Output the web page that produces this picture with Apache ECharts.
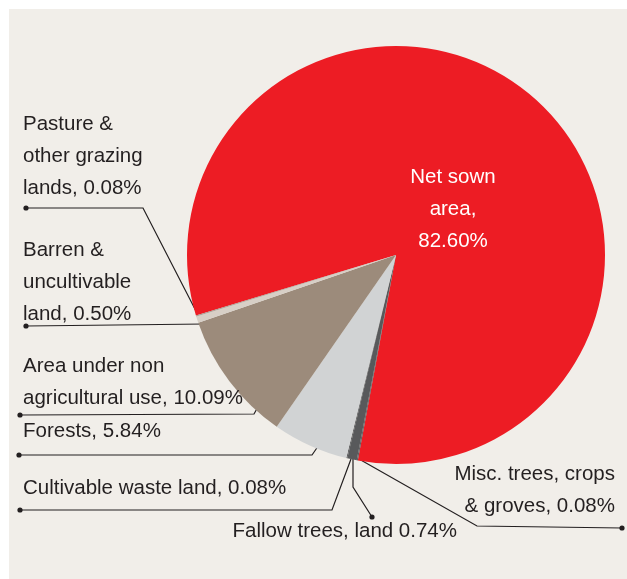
<!DOCTYPE html>
<html><head><meta charset="utf-8">
<script src="https://cdn.jsdelivr.net/npm/echarts@6/dist/echarts.min.js"></script>
<style>html,body{margin:0;padding:0;background:#fff}#c{width:627px;height:579px}</style>
</head><body><div id="c"></div>
<script>
const categories = ['Net sown area', 'Misc. trees, crops & groves', 'Fallow trees, land', 'Cultivable waste land', 'Forests', 'Area under non agricultural use', 'Barren & uncultivable land', 'Pasture & other grazing lands'];
const values = [82.60, 0.08, 0.74, 0.08, 5.84, 10.09, 0.50, 0.08];
const labelTexts = ['Net sown\narea,\n82.60%', 'Misc. trees, crops\n& groves, 0.08%', 'Fallow trees, land 0.74%', 'Cultivable waste land, 0.08%', 'Forests, 5.84%', 'Area under non\nagricultural use, 10.09%', 'Barren &\nuncultivable\nland, 0.50%', 'Pasture &\nother grazing\nlands, 0.08%'];
const colors = ['#ed1c24','#58595b','#58595b','#58595b','#d1d3d4','#9c8b7b','#d7cfc6','#a99d92'];

// annotation layout (label placement and leader-line routing)
const labelLayouts = [
  {x:453, y:161, align:'center', line:null},
  {x:615, y:458, align:'right', line:[[359,459],[477,526],[622,528]]},
  {x:457, y:515, align:'right', line:[[353,459],[353,487],[372,517]]},
  {x:23, y:472, align:'left', line:[[351,459],[332,510],[20,510]]},
  {x:23, y:415, align:'left', line:[[330,429],[312,455],[19,455]]},
  {x:23, y:350, align:'left', line:[[268,389],[254,414],[20,415]]},
  {x:23, y:234, align:'left', line:[[205,324],[205,324],[26,326]]},
  {x:23, y:108, align:'left', line:[[197,313],[143,208],[26,208]]}
];
const FONT = 'Liberation Sans';
const INK = '#231f20';

const chart = echarts.init(document.getElementById('c'), null, {renderer:'canvas'});
const dots = labelLayouts.filter(l => l.line).map(l => ({
  type:'circle', shape:{cx:l.line[2][0], cy:l.line[2][1], r:2.6}, style:{fill:INK}, z:100
}));
chart.setOption({
  animation:false,
  backgroundColor:'#ffffff',
  graphic:[
    {type:'rect', shape:{x:9, y:9, width:640, height:600}, style:{fill:'#f1eee9'}, z:-10, silent:true}
  ].concat(dots),
  series:[{
    type:'pie',
    center:[396,255],
    radius:209,
    startAngle:196.8,
    clockwise:true,
    avoidLabelOverlap:false,
    silent:true,
    itemStyle:{borderWidth:0},
    data: categories.map((n,i)=>({
      name:n, value:values[i], itemStyle:{color:colors[i]},
      label: i===0 ? {color:'#ffffff'} : {},
      labelLine: i===0 ? {show:false} : {show:true}
    })),
    label:{
      show:true, position:'outside',
      formatter: p => labelTexts[p.dataIndex],
      fontFamily:FONT, fontSize:20.5, lineHeight:32, color:INK
    },
    labelLine:{show:true, length:10, length2:10, smooth:false, lineStyle:{color:INK, width:1.2}},
    labelLayout: p => {
      const l = labelLayouts[p.dataIndex];
      const o = {x:l.x, y:l.y, align:l.align, verticalAlign:'top'};
      if (l.line) o.labelLinePoints = l.line;
      return o;
    }
  }]
});
</script></body></html>
